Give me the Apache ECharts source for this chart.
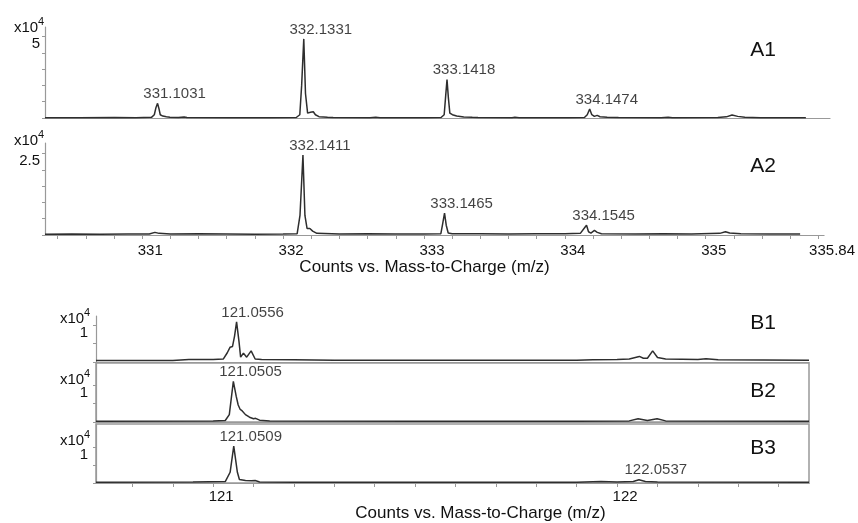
<!DOCTYPE html>
<html><head><meta charset="utf-8">
<script src="https://cdn.jsdelivr.net/npm/echarts@6/dist/echarts.min.js"></script>
<style>html,body{margin:0;padding:0;background:#fff;}#c{width:858px;height:523px;}</style>
</head><body><div id="c"></div>
<script>
// ===== DATA (m/z, intensity in units of 10^4 counts) =====
const traceA1 = [[330.31,0.02],[330.55,0.02],[330.8,0.03],[330.95,0.02],[331.06,0.04],[331.08,0.2],[331.092,0.65],[331.103,0.9],[331.112,0.6],[331.122,0.2],[331.14,0.12],[331.165,0.08],[331.19,0.05],[331.25,0.03],[331.29,0.06],[331.31,0.03],[331.6,0.02],[331.9,0.02],[332.08,0.03],[332.105,0.2],[332.118,2.0],[332.133,4.85],[332.145,1.5],[332.16,0.3],[332.18,0.35],[332.2,0.38],[332.215,0.2],[332.24,0.08],[332.3,0.04],[332.34,0.03],[332.6,0.02],[332.64,0.05],[332.67,0.02],[333.0,0.02],[333.1,0.03],[333.122,0.2],[333.133,1.4],[333.142,2.35],[333.152,1.2],[333.162,0.3],[333.18,0.2],[333.21,0.12],[333.26,0.06],[333.32,0.04],[333.36,0.03],[333.6,0.02],[333.62,0.04],[333.65,0.02],[334.0,0.02],[334.11,0.03],[334.13,0.2],[334.147,0.55],[334.162,0.2],[334.18,0.1],[334.2,0.16],[334.22,0.08],[334.27,0.04],[334.35,0.03],[334.65,0.02],[334.7,0.04],[334.73,0.02],[335.05,0.03],[335.11,0.07],[335.15,0.18],[335.19,0.1],[335.24,0.04],[335.35,0.02],[335.67,0.02]];
const traceA2 = [[330.31,0.02],[330.5,0.03],[330.7,0.02],[330.9,0.03],[331.05,0.03],[331.09,0.08],[331.12,0.05],[331.2,0.03],[331.4,0.04],[331.6,0.03],[331.8,0.02],[332.0,0.03],[332.1,0.04],[332.12,0.6],[332.141,2.45],[332.155,0.6],[332.17,0.2],[332.19,0.2],[332.21,0.12],[332.24,0.05],[332.4,0.03],[332.6,0.04],[332.8,0.03],[333.0,0.03],[333.12,0.04],[333.133,0.35],[333.146,0.67],[333.158,0.3],[333.172,0.06],[333.2,0.04],[333.4,0.04],[333.6,0.03],[333.8,0.04],[334.0,0.04],[334.11,0.05],[334.14,0.22],[334.154,0.3],[334.168,0.1],[334.185,0.06],[334.21,0.14],[334.23,0.08],[334.26,0.04],[334.5,0.03],[334.7,0.04],[334.9,0.03],[335.1,0.05],[335.14,0.1],[335.17,0.06],[335.25,0.04],[335.45,0.03],[335.67,0.03]];
const traceB1 = [[120.71,0.04],[120.9,0.04],[120.94,0.07],[121.0,0.07],[121.025,0.08],[121.035,0.25],[121.042,0.4],[121.048,0.42],[121.053,0.7],[121.058,1.08],[121.064,0.55],[121.068,0.13],[121.075,0.24],[121.083,0.13],[121.094,0.3],[121.104,0.08],[121.12,0.07],[121.2,0.06],[121.3,0.05],[121.5,0.05],[121.7,0.05],[121.9,0.05],[121.94,0.06],[122.0,0.07],[122.03,0.08],[122.055,0.15],[122.065,0.1],[122.075,0.1],[122.088,0.3],[122.1,0.12],[122.12,0.08],[122.2,0.07],[122.22,0.09],[122.25,0.06],[122.475,0.05]];
const traceB2 = [[120.71,0.02],[121.0,0.03],[121.03,0.04],[121.04,0.2],[121.05,1.1],[121.057,0.7],[121.062,0.46],[121.067,0.34],[121.072,0.3],[121.08,0.2],[121.09,0.13],[121.1,0.09],[121.105,0.1],[121.115,0.05],[121.14,0.03],[121.5,0.02],[121.9,0.02],[122.03,0.03],[122.052,0.09],[122.075,0.04],[122.099,0.09],[122.12,0.03],[122.475,0.02]];
const traceB3 = [[120.71,0.02],[120.95,0.03],[121.03,0.04],[121.042,0.3],[121.051,1.03],[121.06,0.3],[121.065,0.1],[121.08,0.07],[121.095,0.06],[121.104,0.07],[121.115,0.03],[121.2,0.02],[121.9,0.02],[121.96,0.04],[122.0,0.03],[122.04,0.04],[122.054,0.09],[122.07,0.04],[122.1,0.03],[122.475,0.02]];

const peaksA1 = [[331.1031,0.9,'331.1031'],[332.1331,4.85,'332.1331'],[333.1418,2.35,'333.1418'],[334.1474,0.55,'334.1474']];
const peaksA2 = [[332.1411,2.45,'332.1411'],[333.1465,0.67,'333.1465'],[334.1545,0.3,'334.1545']];
const peaksB1 = [[121.0556,1.08,'121.0556']];
const peaksB2 = [[121.0505,1.1,'121.0505']];
const peaksB3 = [[121.0509,1.03,'121.0509'],[122.0537,0.09,'122.0537']];

const ticksA = [330.4,330.6,330.8,331,331.2,331.4,331.6,331.8,332,332.2,332.4,332.6,332.8,333,333.2,333.4,333.6,333.8,334,334.2,334.4,334.6,334.8,335,335.2,335.4,335.6,335.8];
const labelsA = [331,332,333,334,335,335.84];
const ticksB = [120.8,120.9,121,121.1,121.2,121.3,121.4,121.5,121.6,121.7,121.8,121.9,122,122.1,122.2,122.3,122.4];
const labelsB = [121,122];
const panelNames = ['A1','A2','B1','B2','B3'];
const xTitle = 'Counts vs. Mass-to-Charge (m/z)';

// ===== CHART =====
const FONT = '"Liberation Sans", Arial, sans-serif';
const TXT = '#111', AX = '#999', LINE = '#2e2e2e';
const chart = echarts.init(document.getElementById('c'), null, {renderer:'canvas'});

const grids = [
  {left:45, top:27, width:785, height:91},
  {left:45, top:143, width:785, height:92},
  {left:96, top:316, width:713, height:46},
  {left:96, top:363, width:713, height:59, show:true, borderColor:AX, borderWidth:1.5},
  {left:96, top:424, width:713, height:60, show:true, borderColor:AX, borderWidth:1.5}
];
const xr = [[330.31,335.84],[330.31,335.84],[120.71,122.475],[120.71,122.475],[120.71,122.475]];
const yMax = [5.58, 2.82, 1.24, 1.6, 1.65];
const yTicks = [[0,1,2,3,4,5],[0,0.5,1,1.5,2,2.5],[0,0.5,1],[0,0.5,1],[0,0.5,1]];
const yLabs = [[5],[2.5],[1],[1],[1]];
const showX = [false,true,false,false,true];

const xAxis = xr.map((r,i)=>({
  type:'value', gridIndex:i, min:r[0], max:r[1],
  axisLine:{show:true, onZero:false, lineStyle:{color:AX, width:1.2}},
  axisTick:{show:showX[i], customValues: i<2?ticksA:ticksB, length:4, lineStyle:{color:AX}},
  axisLabel:{show:showX[i], customValues: i<2?labelsA:labelsB, color:TXT, fontSize:15, fontFamily:FONT,
             margin: i<2?8:6, padding:[0,0,0,16]},
  splitLine:{show:false},
  name: showX[i]?xTitle:'', nameLocation:'middle', nameGap: i<2?22:22,
  nameTextStyle:{color:TXT, fontSize:17, fontFamily:FONT, padding: i<2?[0,20,0,0]:[0,0,0,56]}
}));
const yAxis = yMax.map((m,i)=>({
  type:'value', gridIndex:i, min:0, max:m,
  axisLine:{show:true, lineStyle:{color:AX, width:1.2}},
  axisTick:{show:true, customValues:yTicks[i], length:3, lineStyle:{color:AX}},
  axisLabel:{show:true, customValues:yLabs[i], color:TXT, fontSize:15, fontFamily:FONT,
             verticalAlign:'top', margin: i<2?5:8},
  splitLine:{show:false}
}));
const traces = [traceA1,traceA2,traceB1,traceB2,traceB3];
const peaks = [peaksA1,peaksA2,peaksB1,peaksB2,peaksB3];
const series = [];
traces.forEach((t,i)=>{
  series.push({type:'line', xAxisIndex:i, yAxisIndex:i, data:t, symbol:'none', silent:true,
    lineStyle:{color:LINE, width:1.5}, z:3});
});
peaks.forEach((p,i)=>{
  series.push({type:'scatter', xAxisIndex:i, yAxisIndex:i, data:p, symbolSize:0, silent:true, z:5,
    label:{show:true, position:'top', distance:2, offset:[17,0], formatter:(d)=>d.data[2],
           color:TXT, fontSize:15, fontFamily:FONT}});
});

// text-only annotations: exponent markers and panel names
const expPos = [[14,28],[14,141],[60,319],[60,380],[60,441]];
const namePos = [[763,50],[763,166],[763,323],[763,391],[763,448]];
const graphic = [];
expPos.forEach(p=>{
  graphic.push({type:'text', x:p[0], y:p[1], style:{text:'x10', fill:TXT, font:'15px '+FONT, align:'left', verticalAlign:'middle', textAlign:'left', textVerticalAlign:'middle'}});
  graphic.push({type:'text', x:p[0]+24, y:p[1]-6, style:{text:'4', fill:TXT, font:'11px '+FONT, align:'left', verticalAlign:'middle', textAlign:'left', textVerticalAlign:'middle'}});
});
namePos.forEach((p,i)=>{
  graphic.push({type:'text', x:p[0], y:p[1], style:{text:panelNames[i], fill:TXT, font:'21px '+FONT, align:'center', verticalAlign:'middle', textAlign:'center', textVerticalAlign:'middle'}});
});

chart.setOption({animation:false, backgroundColor:'#fff', textStyle:{fontFamily:FONT},
  grid:grids, xAxis, yAxis, series, graphic});
</script></body></html>
